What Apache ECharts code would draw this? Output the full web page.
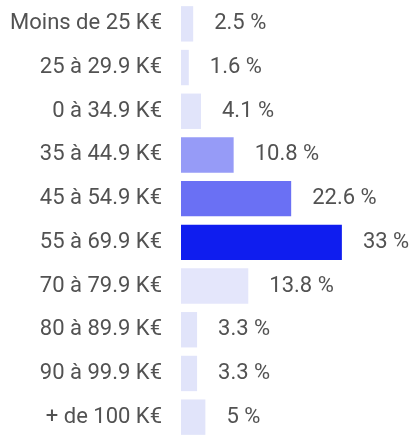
<!DOCTYPE html>
<html>
<head>
<meta charset="utf-8">
<script src="https://cdn.jsdelivr.net/npm/echarts@6/dist/echarts.min.js"></script>
<style>
  html, body { margin: 0; padding: 0; background: #fff; }
  #chart { width: 412px; height: 439px; }
</style>
</head>
<body>
<div id="chart"></div>
<script>
const categories = ['Moins de 25 K€', '25 à 29.9 K€', '0 à 34.9 K€', '35 à 44.9 K€', '45 à 54.9 K€',
  '55 à 69.9 K€', '70 à 79.9 K€', '80 à 89.9 K€', '90 à 99.9 K€', '+ de 100 K€']
const values = [2.5, 1.6, 4.1, 10.8, 22.6, 33, 13.8, 3.3, 3.3, 5]
const barColors = ['#e1e4fa', '#e1e4fa', '#e1e4fa', '#969bf7', '#6a70f4',
  '#0f1def', '#e4e6fb', '#e1e4fa', '#e1e4fa', '#e1e4fa']

const chart = echarts.init(document.getElementById('chart'))
chart.setOption({
  backgroundColor: '#fff',
  animation: false,
  grid: { left: 181, top: 2, right: 36, bottom: -8 },
  xAxis: {
    type: 'value', min: 0, max: 40,
    show: false,
  },
  yAxis: {
    type: 'category', data: categories, inverse: true,
    axisLine: { show: false }, axisTick: { show: false },
    axisLabel: { color: '#525252', fontSize: 22, fontFamily: 'Roboto', margin: 19 },
  },
  series: [{
    type: 'bar',
    data: values.map((v, i) => ({ value: v, itemStyle: { color: barColors[i] } })),
    barCategoryGap: '19%',
    label: {
      show: true, position: 'right', distance: 21,
      color: '#525252', fontSize: 22, fontFamily: 'Roboto',
      formatter: ({ value }) => `${value} %`,
    },
  }],
})
</script>
</body>
</html>
